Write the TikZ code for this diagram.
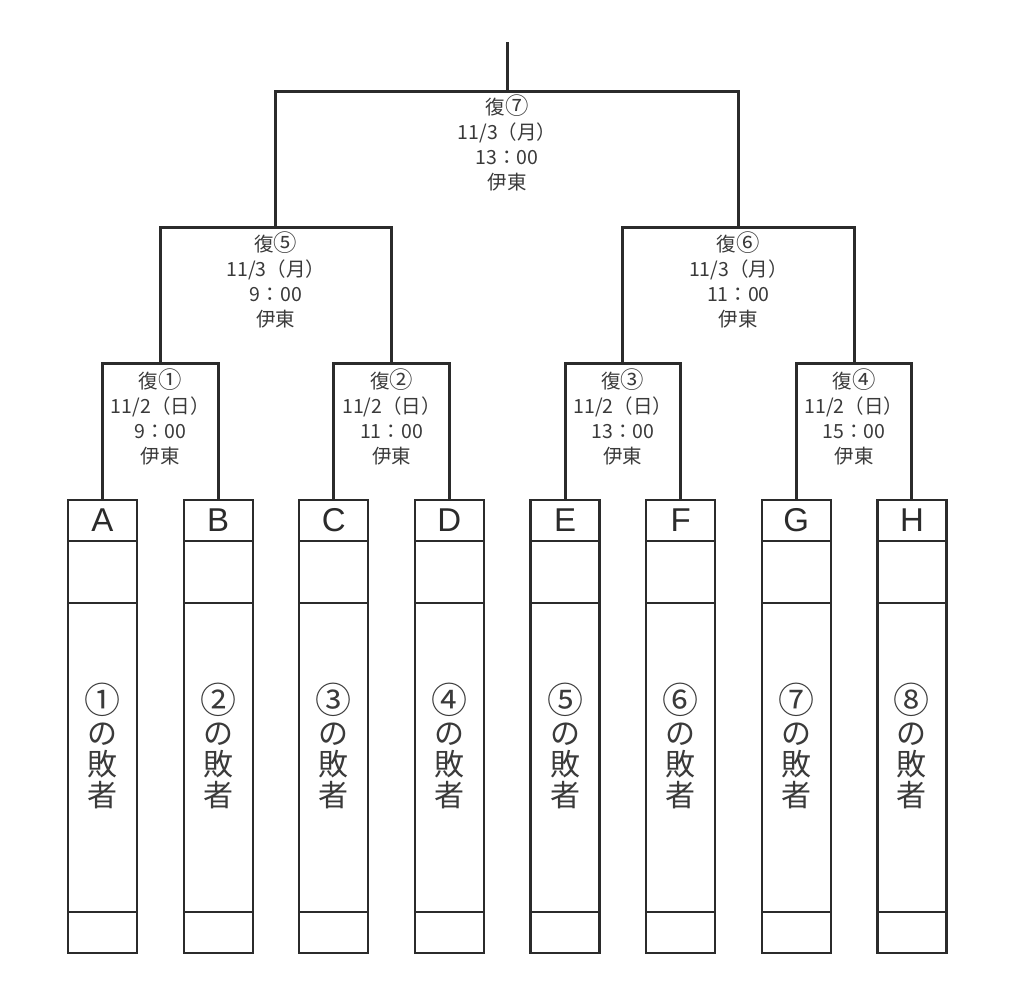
\documentclass[tikz,border=0pt]{standalone}
\usepackage{fontspec}
\usepackage{graphicx}
\setmainfont{Noto Sans CJK JP}
\newfontfamily\latinfont{Liberation Sans}
\definecolor{ln}{HTML}{2B2B2B}
\definecolor{tx}{HTML}{3A3A3A}
\newcommand\circnum[1]{\scalebox{1.2}{#1}}
\begin{document}
\begin{tikzpicture}[x=1pt,y=-1pt,
  cell/.style={draw=ln, line width=2.2pt, minimum width=69pt, inner sep=0pt, outer sep=0pt, anchor=north},
  br/.style={draw=ln, line width=3pt},
  info/.style={align=center, inner sep=0pt, text=tx, font=\fontsize{19.5}{25}\selectfont},
  vtext/.style={align=center, inner sep=0pt, text=tx, font=\fontsize{30}{31}\selectfont},
  letter/.style={text=ln, font=\latinfont\fontsize{33}{33}\selectfont}]
\fill[white] (0,0) rectangle (1024,993);
\useasboundingbox (0,0) rectangle (1024,993);

\foreach \lt/\nn [count=\i from 0] in {A/①,B/②,C/③,D/④,E/⑤,F/⑥,G/⑦,H/⑧}{
  \pgfmathsetmacro\cx{102.5+115.63*\i}
  \node[cell, letter, minimum height=41pt] (\lt) at (\cx,500) {\lt};
  \node[cell, minimum height=62pt] (\lt-blank) at (\cx,541) {};
  \node[cell, minimum height=309pt] (\lt-main) at (\cx,603) {};
  \node[cell, minimum height=41pt] (\lt-bot) at (\cx,912) {};
  \node[vtext] (\lt-txt) at (\cx,746) {\circnum{\nn}\\の\\敗\\者};
}

\coordinate (m1) at (160.3,363);
\coordinate (m2) at (391.5,363);
\coordinate (m3) at (622.8,363);
\coordinate (m4) at (854.0,363);
\coordinate (r5) at (275.9,227);
\coordinate (r6) at (738.4,227);
\coordinate (r7) at (507.1,91);
\coordinate (top) at (507.1,42);

\draw[br] (A.north) |- (m1) -| (B.north);
\draw[br] (C.north) |- (m2) -| (D.north);
\draw[br] (E.north) |- (m3) -| (F.north);
\draw[br] (G.north) |- (m4) -| (H.north);
\draw[br] (m1) |- (r5) -| (m2);
\draw[br] (m3) |- (r6) -| (m4);
\draw[br] (r5) |- (r7) -| (r6);
\draw[br] (r7) -- (top);

\node[info] (t1) at (160.3,416.5) {復\circnum{①}\\11/2（日）\\9：00\\伊東};
\node[info] (t2) at (391.5,416.5) {復\circnum{②}\\11/2（日）\\11：00\\伊東};
\node[info] (t3) at (622.8,416.5) {復\circnum{③}\\11/2（日）\\13：00\\伊東};
\node[info] (t4) at (854.0,416.5) {復\circnum{④}\\11/2（日）\\15：00\\伊東};
\node[info] (t5) at (275.9,279.5) {復\circnum{⑤}\\11/3（月）\\9：00\\伊東};
\node[info] (t6) at (738.4,279.5) {復\circnum{⑥}\\11/3（月）\\11：00\\伊東};
\node[info] (t7) at (507.1,143) {復\circnum{⑦}\\11/3（月）\\13：00\\伊東};
\end{tikzpicture}
\end{document}
